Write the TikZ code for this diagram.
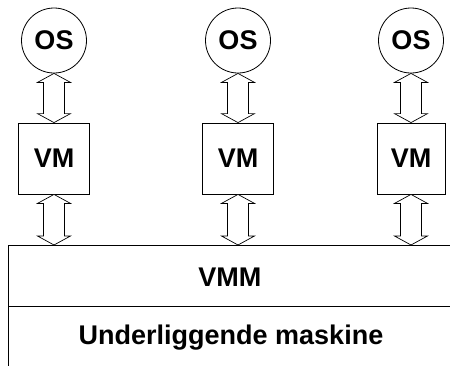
\documentclass[tikz,border=0pt]{standalone}
\usepackage{fontspec}
\setmainfont{Liberation Sans}
\usetikzlibrary{calc}

\tikzset{
  bigbold/.style={font=\fontsize{27}{31}\selectfont\bfseries},
  osnode/.style={circle, draw, line width=0.8pt, minimum size=65pt, inner sep=0pt, bigbold},
  vmnode/.style={rectangle, draw, line width=0.8pt, minimum width=71pt, minimum height=71pt,
                 inner sep=0pt, bigbold},
  layer/.style={rectangle, draw, line width=0.8pt, inner sep=0pt, bigbold},
  label/.style={inner sep=0pt, bigbold},
  barrow/.style={draw, line width=0.7pt, fill=white, line join=miter},
}

% hollow double-headed block arrow between two anchors (x taken from the first)
\newcommand\blockarrow[2]{%
  \draw[barrow] let \p1=(#1), \p2=(#2) in
    (\x1,\y1) -- (\x1-16.5pt,\y1-9pt) -- (\x1-10.5pt,\y1-9pt)
    -- (\x1-10.5pt,\y2+9pt) -- (\x1-16.5pt,\y2+9pt) -- (\x1,\y2)
    -- (\x1+16.5pt,\y2+9pt) -- (\x1+10.5pt,\y2+9pt)
    -- (\x1+10.5pt,\y1-9pt) -- (\x1+16.5pt,\y1-9pt) -- cycle;}

\begin{document}
\begin{tikzpicture}[x=1pt, y=-1pt]
  \useasboundingbox (0,0) rectangle (450,365);
  \clip (0,0) rectangle (450,365);

  % guest operating systems
  \node[osnode] (os1) at (54,40.5) {OS};
  \node[osnode] (os2) at (238,40.5) {OS};
  \node[osnode] (os3) at (411,40.5) {OS};

  % virtual machines
  \node[vmnode] (vm1) at (54,158.5) {VM};
  \node[vmnode] (vm2) at (238,158.5) {VM};
  \node[vmnode, minimum width=68pt] (vm3) at (411,158.5) {VM};

  % monitor layer and the machine below it
  \node[layer, minimum width=443pt, minimum height=61pt, anchor=north west] (vmm) at (8,245) {};
  \node[label] at ([yshift=-1pt]vmm.center) {VMM};
  \coordinate (base) at (8,366);
  \draw[line width=0.8pt] (vmm.south west) -- (base);
  \node[label] (hw) at (231,338) {Underliggende maskine};

  % interfaces
  \blockarrow{os1.south}{vm1.north}
  \blockarrow{os2.south}{vm2.north}
  \blockarrow{os3.south}{vm3.north}
  \blockarrow{vm1.south}{vmm.north}
  \blockarrow{vm2.south}{vmm.north}
  \blockarrow{vm3.south}{vmm.north}
\end{tikzpicture}
\end{document}
